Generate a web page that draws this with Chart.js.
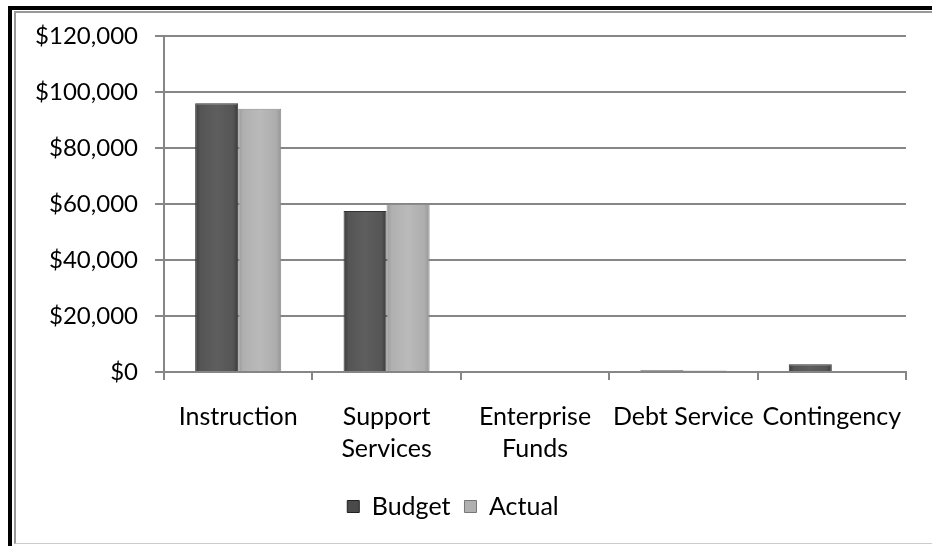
<!DOCTYPE html>
<html>
<head>
<meta charset="utf-8">
<script src="https://cdn.jsdelivr.net/npm/chart.js@4.4.0/dist/chart.umd.min.js"></script>
<style>
  html, body { margin:0; padding:0; background:#fff; }
  #wrap { position:relative; width:932px; height:546px; overflow:hidden; }
  #frameBlack { position:absolute; left:8px; top:6px; right:0; bottom:0; border-left:4px solid #000; border-top:4px solid #000; }
  #frameGray { position:absolute; left:14px; top:11px; right:0; bottom:2px; border-left:2px solid #999; border-top:2px solid #999; border-bottom:1px solid #ccc; }
  #chartBox { position:absolute; left:0; top:0; width:932px; height:546px; }
</style>
</head>
<body>
<div id="wrap">
  <div id="frameBlack"></div>
  <div id="frameGray"></div>
  <div id="chartBox"><canvas id="budgetChart"></canvas></div>
</div>
<script>
const CATEGORIES = [['Instruction'], ['Support', 'Services'], ['Enterprise', 'Funds'], ['Debt Service'], ['Contingency']];
const BUDGET = [96000, 57500, 0, 600, 2800];
const ACTUAL = [94000, 60000, 0, 500, 0];
const Y_MAX = 120000;
const Y_STEP = 20000;

const CAT_PCT = 0.58;
const FONT = 'Lato';

// horizontal bevel-like gradient per bar, computed from the x scale
function barFill(dark) {
  return ctx => {
    const chart = ctx.chart;
    const xs = chart.scales && chart.scales.x;
    if (!xs || ctx.dataIndex === undefined) return dark ? '#555' : '#aaa';
    const catW = xs.width / CATEGORIES.length;
    const barW = catW * CAT_PCT / 2;
    const cx = xs.getPixelForValue(ctx.dataIndex);
    const x0 = cx - barW + (ctx.datasetIndex * barW);
    const g = chart.ctx.createLinearGradient(x0, 0, x0 + barW, 0);
    if (dark) {
      g.addColorStop(0, '#3c3c3c');
      g.addColorStop(0.12, '#555');
      g.addColorStop(0.5, '#5e5e5e');
      g.addColorStop(0.88, '#555');
      g.addColorStop(1, '#3a3a3a');
    } else {
      g.addColorStop(0, '#9a9a9a');
      g.addColorStop(0.12, '#b0b0b0');
      g.addColorStop(0.5, '#bababa');
      g.addColorStop(0.88, '#adadad');
      g.addColorStop(1, '#959595');
    }
    return g;
  };
}

new Chart(document.getElementById('budgetChart'), {
  type: 'bar',
  data: {
    labels: CATEGORIES,
    datasets: [
      { label: 'Budget', data: BUDGET, backgroundColor: barFill(true), borderColor: '#333', borderWidth: 1,
        categoryPercentage: CAT_PCT, barPercentage: 1 },
      { label: 'Actual', data: ACTUAL, backgroundColor: barFill(false), borderColor: '#8a8a8a', borderWidth: 1,
        categoryPercentage: CAT_PCT, barPercentage: 1 },
    ],
  },
  options: {
    responsive: true, maintainAspectRatio: false, animation: false,
    layout: { padding: { left: 0, right: 26, top: 36, bottom: 17 } },
    plugins: {
      tooltip: { enabled: false },
      legend: {
        position: 'bottom',
        labels: {
          boxWidth: 12, boxHeight: 12, padding: 14, color: '#000',
          font: { family: FONT, size: 25 },
          generateLabels: chart => chart.data.datasets.map((d, i) => ({
            text: d.label, fillStyle: i === 0 ? '#4a4a4a' : '#b0b0b0',
            strokeStyle: i === 0 ? '#222' : '#777', lineWidth: 1, datasetIndex: i,
          })),
        },
      },
    },
    scales: {
      x: {
        grid: { offset: true, drawOnChartArea: false, color: '#868686', lineWidth: 2, tickLength: 8 },
        border: { color: '#868686', width: 2 },
        ticks: { color: '#000', font: { family: FONT, size: 25, lineHeight: 1.28 }, padding: 21, maxRotation: 0, autoSkip: false },
        afterFit: s => { s.height = 108; },
      },
      y: {
        min: 0, max: Y_MAX,
        grid: { color: '#868686', lineWidth: 2, tickLength: 9 },
        border: { color: '#868686', width: 2 },
        ticks: {
          stepSize: Y_STEP, color: '#000', padding: 17,
          font: { family: FONT, size: 24 },
          callback: v => '$' + v.toLocaleString('en-US'),
        },
        afterFit: s => { s.width = 164; },
      },
    },
  },
});
</script>
</body>
</html>
